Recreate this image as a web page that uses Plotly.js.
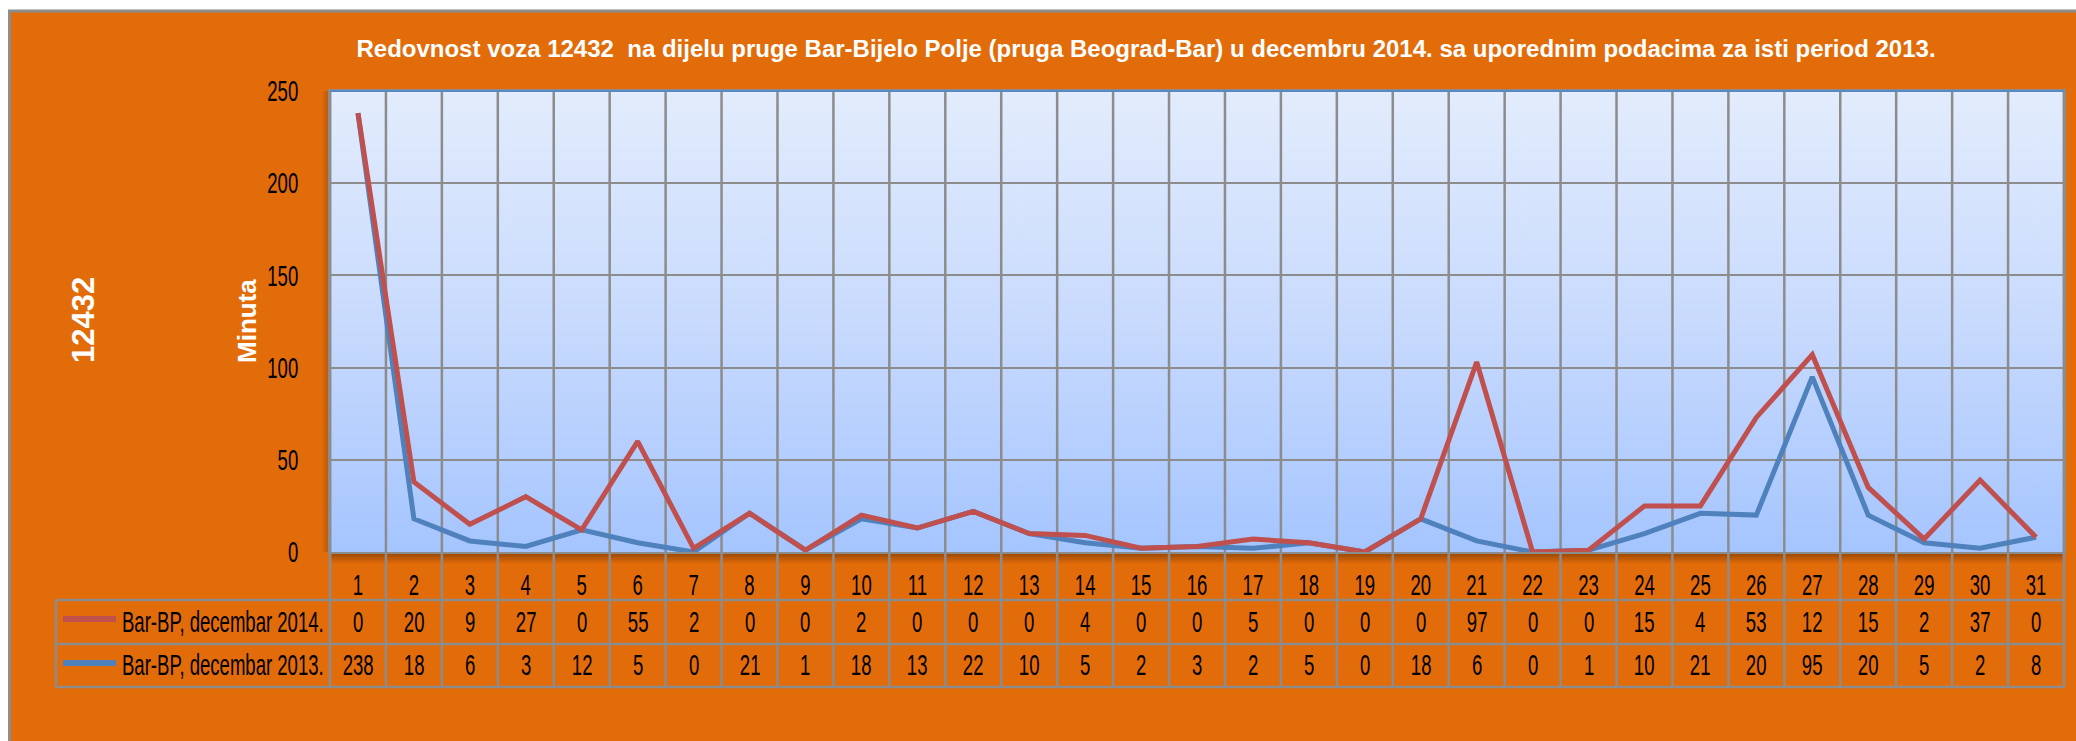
<!DOCTYPE html>
<html><head><meta charset="utf-8">
<script src="https://cdn.plot.ly/plotly-3.0.1.min.js"></script>
<style>html,body{margin:0;padding:0;background:#fff;} #chart{width:2076px;height:741px;}</style>
</head><body><div id="chart"></div>
<script>
// ---------------- data ----------------
const days = [1,2,3,4,5,6,7,8,9,10,11,12,13,14,15,16,17,18,19,20,21,22,23,24,25,26,27,28,29,30,31];
const series2014Name = 'Bar-BP, decembar 2014.';
const series2013Name = 'Bar-BP, decembar 2013.';
const values2014 = [0,20,9,27,0,55,2,0,0,2,0,0,0,4,0,0,5,0,0,0,97,0,0,15,4,53,12,15,2,37,0];
const values2013 = [238,18,6,3,12,5,0,21,1,18,13,22,10,5,2,3,2,5,0,18,6,0,1,10,21,20,95,20,5,2,8];
const yTicks = [0,50,100,150,200,250];
const titleText = 'Redovnost voza 12432  na dijelu pruge Bar-Bijelo Polje (pruga Beograd-Bar) u decembru 2014. sa uporednim podacima za isti period 2013.';
const trainLabel = '12432';
const yTitle = 'Minuta';

// ---------------- geometry / style ----------------
const W = 2076, H = 741, L = 330, R = 2064, T = 91, B = 552;
const pw = R - L, ph = B - T;
const px = x => (x - L) / pw;
const py = y => (B - y) / ph;
const ORANGE = '#E36C0A', GRID = '#8C8C8C', RED = '#C0504D', BLUE = '#4F81BD';
const CF = {family: '"Agency FB", "Liberation Sans", Arial, sans-serif', size: 29, color: '#000'};
const BOLD = {family: '"Liberation Sans", Arial, sans-serif', color: '#fff', weight: 'bold'};

const svgUri = s => 'data:image/svg+xml;charset=utf-8,' + encodeURIComponent(s);
const bgGrad = svgUri('<svg xmlns="http://www.w3.org/2000/svg" width="100" height="100" viewBox="0 0 100 100" preserveAspectRatio="none"><defs><linearGradient id="g" x1="0" y1="0" x2="0" y2="1"><stop offset="0" stop-color="#E2ECFC"/><stop offset="0.5" stop-color="#C8DAFD"/><stop offset="1" stop-color="#A5C5FF"/></linearGradient></defs><rect width="100" height="100" fill="url(#g)"/></svg>');
const shadowV = svgUri('<svg xmlns="http://www.w3.org/2000/svg" width="100" height="100" viewBox="0 0 100 100" preserveAspectRatio="none"><defs><linearGradient id="g" x1="0" y1="0" x2="0" y2="1"><stop offset="0" stop-color="#5a2800" stop-opacity="0.6"/><stop offset="1" stop-color="#5a2800" stop-opacity="0"/></linearGradient></defs><rect width="100" height="100" fill="url(#g)"/></svg>');
const shadowH = svgUri('<svg xmlns="http://www.w3.org/2000/svg" width="100" height="100" viewBox="0 0 100 100" preserveAspectRatio="none"><defs><linearGradient id="g" x1="0" y1="0" x2="1" y2="0"><stop offset="0" stop-color="#5a2800" stop-opacity="0"/><stop offset="1" stop-color="#5a2800" stop-opacity="0.35"/></linearGradient></defs><rect width="100" height="100" fill="url(#g)"/></svg>');

// ---------------- traces (stacked lines) ----------------
const traces = [
  {type: 'scatter', mode: 'lines', name: series2013Name, x: days, y: values2013,
   stackgroup: 's', fill: 'none', line: {color: BLUE, width: 5}},
  {type: 'scatter', mode: 'lines', name: series2014Name, x: days, y: values2014,
   stackgroup: 's', fill: 'none', line: {color: RED, width: 5}}
];

// ---------------- shapes ----------------
const shapes = [];
const ln = (o) => Object.assign({type: 'line', layer: 'below', line: {color: GRID, width: 2.5}}, o);
// white page margins + grey frame
shapes.push({type: 'rect', xref: 'paper', yref: 'paper', x0: px(-20), x1: px(2100), y0: py(-20), y1: py(10), fillcolor: '#fff', line: {width: 0}, layer: 'below'});
shapes.push({type: 'rect', xref: 'paper', yref: 'paper', x0: px(-20), x1: px(8), y0: py(-20), y1: py(760), fillcolor: '#fff', line: {width: 0}, layer: 'below'});
shapes.push(ln({xref: 'paper', yref: 'paper', x0: px(8), x1: px(2100), y0: py(11), y1: py(11), line: {color: GRID, width: 3}}));
shapes.push(ln({xref: 'paper', yref: 'paper', x0: px(9.5), x1: px(9.5), y0: py(10), y1: py(760), line: {color: GRID, width: 3}}));
// category boundaries (grid + table columns)
for (let k = 0; k <= days.length; k++) {
  shapes.push(ln({xref: 'x', yref: 'paper', x0: k + 0.5, x1: k + 0.5, y0: py(687), y1: 1}));
}
shapes.push(ln({xref: 'paper', yref: 'paper', x0: 0, x1: 0, y0: py(687), y1: 1}));
shapes.push(ln({xref: 'paper', yref: 'paper', x0: 1, x1: 1, y0: py(687), y1: 1}));
// table horizontal lines and left border
[600, 644, 687].forEach(yy => shapes.push(ln({xref: 'paper', yref: 'paper', x0: px(56), x1: 1, y0: py(yy), y1: py(yy)})));
shapes.push(ln({xref: 'paper', yref: 'paper', x0: px(56), x1: px(56), y0: py(600), y1: py(687)}));
// legend keys in table
shapes.push({type: 'line', xref: 'paper', yref: 'paper', x0: px(63), x1: px(116), y0: py(619), y1: py(619), line: {color: RED, width: 6}, layer: 'above'});
shapes.push({type: 'line', xref: 'paper', yref: 'paper', x0: px(63), x1: px(116), y0: py(663), y1: py(663), line: {color: BLUE, width: 6}, layer: 'above'});
// top border of plot area
shapes.push({type: 'line', xref: 'paper', yref: 'paper', x0: 0, x1: 1, y0: 1, y1: 1, line: {color: '#5B87C2', width: 2}, layer: 'above'});

// ---------------- annotations ----------------
const annotations = [];
days.forEach((d, i) => {
  annotations.push({x: d, xref: 'x', y: py(622), yref: 'paper', text: String(values2014[i]), showarrow: false, font: CF, xanchor: 'center', yanchor: 'middle'});
  annotations.push({x: d, xref: 'x', y: py(665), yref: 'paper', text: String(values2013[i]), showarrow: false, font: CF, xanchor: 'center', yanchor: 'middle'});
});
annotations.push({x: px(120), xref: 'paper', y: py(622), yref: 'paper', text: series2014Name, showarrow: false, font: CF, xanchor: 'left', align: 'left', yanchor: 'middle'});
annotations.push({x: px(120), xref: 'paper', y: py(665), yref: 'paper', text: series2013Name, showarrow: false, font: CF, xanchor: 'left', align: 'left', yanchor: 'middle'});
annotations.push({x: px(83), xref: 'paper', y: py(320), yref: 'paper', text: trainLabel, textangle: -90, showarrow: false, font: Object.assign({size: 31}, BOLD), xanchor: 'center', yanchor: 'middle'});
annotations.push({x: px(247), xref: 'paper', y: py(321), yref: 'paper', text: yTitle, textangle: -90, showarrow: false, font: Object.assign({size: 26}, BOLD), xanchor: 'center', yanchor: 'middle'});

// ---------------- layout ----------------
const layout = {
  width: W, height: H,
  margin: {l: L, r: W - R, t: T, b: H - B, pad: 0},
  paper_bgcolor: ORANGE, plot_bgcolor: 'rgba(0,0,0,0)',
  showlegend: false,
  title: {text: titleText, font: Object.assign({size: 24}, BOLD), x: px(1146), xref: 'paper', xanchor: 'center', y: 1 - 49 / H, yref: 'container', yanchor: 'middle'},
  xaxis: {range: [0.5, 31.5], tickmode: 'array', tickvals: days, ticktext: days.map(String),
          showgrid: false, zeroline: false, showline: true, mirror: true, linecolor: GRID, linewidth: 2,
          ticks: '', tickfont: CF, ticklabelstandoff: 6, fixedrange: true},
  yaxis: {range: [0, 250], tickmode: 'array', tickvals: yTicks, ticktext: yTicks.map(String),
          showgrid: true, gridcolor: GRID, gridwidth: 2, zeroline: false, showline: true, mirror: true,
          linecolor: GRID, linewidth: 2, ticks: '', tickfont: CF, ticklabelstandoff: 24, fixedrange: true},
  images: [
    {source: bgGrad, xref: 'paper', yref: 'paper', x: 0, y: 1, sizex: 1, sizey: 1, sizing: 'stretch', xanchor: 'left', yanchor: 'top', layer: 'below'},
    {source: shadowV, xref: 'paper', yref: 'paper', x: 0, y: 0, sizex: 1, sizey: 12 / ph, sizing: 'stretch', xanchor: 'left', yanchor: 'top', layer: 'below'},
    {source: shadowH, xref: 'paper', yref: 'paper', x: px(321), y: 1, sizex: 9 / pw, sizey: 1, sizing: 'stretch', xanchor: 'left', yanchor: 'top', layer: 'below'}
  ],
  shapes: shapes,
  annotations: annotations
};

Plotly.newPlot('chart', traces, layout, {staticPlot: true, displayModeBar: false}).then(gd => {
  // condense the narrow "Agency FB"-style texts horizontally
  const SX = 0.64;
  gd.querySelectorAll('text').forEach(el => {
    const ff = el.style.fontFamily || '';
    if (ff.indexOf('Agency') === -1) return;
    const b = el.getBBox();
    const a = el.getAttribute('text-anchor') || 'start';
    const cx = a === 'end' ? b.x + b.width : (a === 'middle' ? b.x + b.width / 2 : b.x);
    const t = el.getAttribute('transform') || '';
    el.setAttribute('transform', t + ' translate(' + cx + ' 0) scale(' + SX + ' 1) translate(' + (-cx) + ' 0)');
  });
});
</script>
</body></html>
